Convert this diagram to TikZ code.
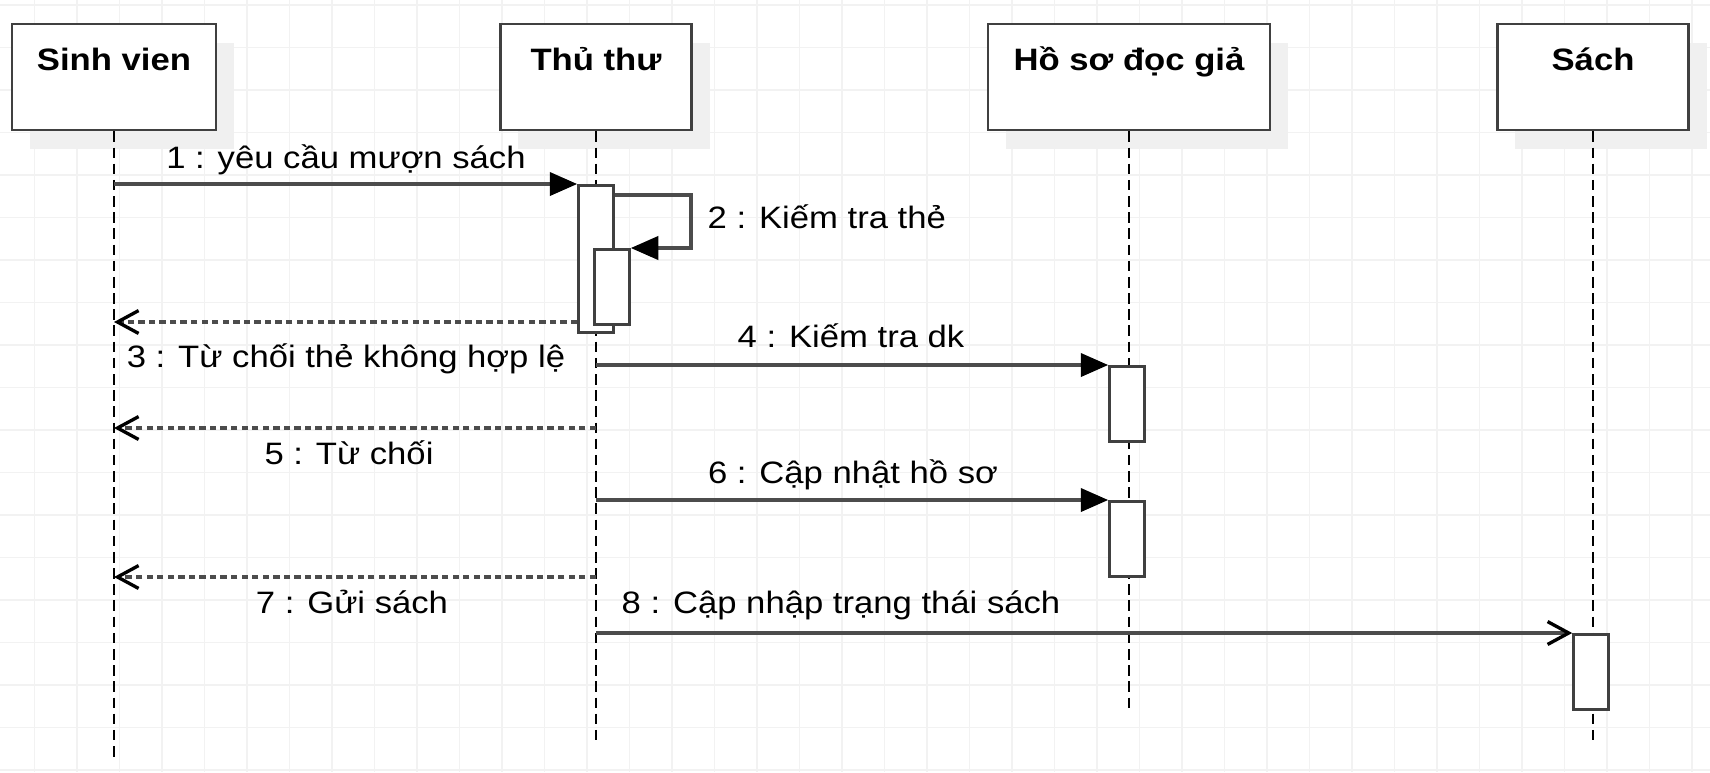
\documentclass[tikz,border=0pt]{standalone}
\usepackage{fontspec}
\setmainfont{Liberation Sans}[FakeStretch=1.12]
\usetikzlibrary{arrows.meta}
\usetikzlibrary{shadows}

\begin{document}
\begin{tikzpicture}[x=0.01cm, y=-0.01cm,
    gridline/.style={black!5, line width=0.45pt},
    head/.style={draw=black!75, line width=0.75pt, fill=white, minimum width=1.91cm, inner xsep=0pt, inner ysep=0.22cm,
        text height=0.24cm, text depth=0.38cm, anchor=base, font=\fontsize{8.8}{10.5}\selectfont\bfseries,
        drop shadow={shadow xshift=0.18cm, shadow yshift=-0.19cm, fill=black!6, opacity=1}},
    act/.style={draw=black!75, line width=0.75pt, fill=white, minimum width=0.35cm, minimum height=0.75cm, inner sep=0pt, anchor=north},
    life/.style={black, line width=0.6pt, dash pattern=on 3pt off 1.6pt},
    call/.style={black!70, line width=0.95pt, -{Triangle[length=7.8pt, width=6.6pt, color=black]}},
    async/.style={black!70, line width=0.95pt, -{Straight Barb[length=6pt, width=6.5pt, color=black]}},
    reply/.style={black!70, line width=0.95pt, dash pattern=on 1.8pt off 1.2pt, -{Straight Barb[length=6pt, width=6.5pt, color=black]}},
    lbl/.style={anchor=base, inner sep=0pt, font=\fontsize{8.8}{10.5}\selectfont}]
    \fill[white] (0,0) rectangle (1710,772);
    \useasboundingbox (0,0) rectangle (1710,772);
    \foreach \gx in {0,...,39} \draw[gridline] (34.4+42.5*\gx,0) -- (34.4+42.5*\gx,772);   %grid
    \foreach \gy in {0,...,18} \draw[gridline] (0,5+42.5*\gy) -- (1710,5+42.5*\gy);

    \node[head, minimum width=2.04cm] (sv) at (114,70) {Sinh vien};
    \node[head] (tt) at (596,70) {Thủ thư};
    \node[head, minimum width=2.82cm] (hs) at (1129,70) {Hồ sơ đọc giả};
    \node[head] (sach) at (1593,70) {Sách};

    \coordinate (sv-e) at (114,760);
    \coordinate (tt-e) at (596,743);
    \coordinate (hs-e) at (1129,712);
    \coordinate (sach-e) at (1593,743);
    \draw[life] (sv) -- (sv-e);   %lifelines
    \draw[life] (tt) -- (tt-e);
    \draw[life] (hs) -- (hs-e);
    \draw[life] (sach) -- (sach-e);

    \node[act, minimum height=1.47cm] (a1) at (596,184) {};
    \node[act] (a2) at (612,248) {};
    \node[act] (a3) at (1127,365) {};
    \node[act] (a4) at (1127,500) {};
    \node[act] (a5) at (1591,633) {};

    \coordinate (self2) at (691,248);
    \coordinate (r3) at (0,322);
    \coordinate (r5) at (0,428);
    \coordinate (r7) at (0,577);
    \draw[call] (sv |- a1.north west) -- (a1.north west);   %1
    \draw[call] ([yshift=-0.11cm]a1.north east) -| (self2) -- (a2.north east);   %2
    \draw[reply] (a1.west |- r3) -- (sv |- r3);   %3
    \draw[call] (tt |- a3.north west) -- (a3.north west);   %4
    \draw[reply] (tt |- r5) -- (sv |- r5);   %5
    \draw[call] (tt |- a4.north west) -- (a4.north west);   %6
    \draw[reply] (tt |- r7) -- (sv |- r7);   %7
    \draw[async] (tt |- a5.north west) -- (a5.north west);   %8

    \node[lbl] (l1) at (346,168) {1 : yêu cầu mượn sách};
    \node[lbl, anchor=base west] (l2) at (707,228) {2 : Kiếm tra thẻ};
    \node[lbl] (l3) at (346,367) {3 : Từ chối thẻ không hợp lệ};
    \node[lbl] (l4) at (851,347) {4 : Kiếm tra dk};
    \node[lbl] (l5) at (349,464) {5 : Từ chối};
    \node[lbl] (l6) at (853,483) {6 : Cập nhật hồ sơ};
    \node[lbl] (l7) at (352,613) {7 : Gửi sách};
    \node[lbl] (l8) at (841,613) {8 : Cập nhập trạng thái sách};
\end{tikzpicture}
\end{document}
